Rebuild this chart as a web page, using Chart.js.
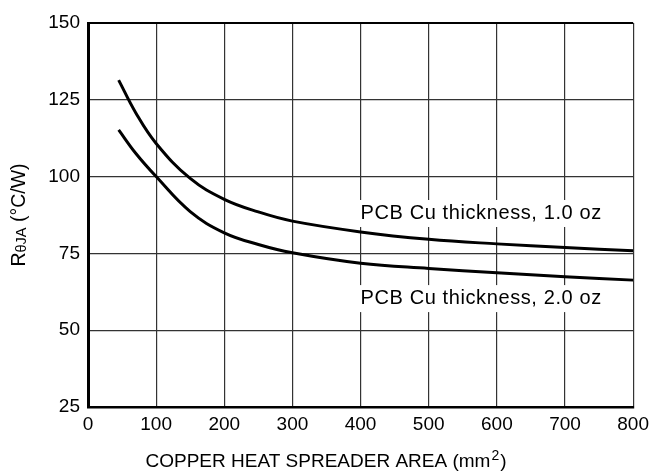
<!DOCTYPE html>
<html>
<head>
<meta charset="utf-8">
<title>RθJA vs copper area</title>
<script src="https://cdn.jsdelivr.net/npm/chart.js"></script>
<style>
  html, body { margin: 0; padding: 0; background: #fff; }
  #wrap { width: 655px; height: 471px; }
</style>
</head>
<body>
<div id="wrap"><canvas id="chart" width="655" height="471"></canvas></div>
<script>
const areas = [45, 70, 100, 150, 200, 250, 300, 400, 500, 600, 700, 800];
// RthetaJA (C/W), 1.0 oz and 2.0 oz copper
const oz1 = [131.4, 120.8, 110.8, 99.4, 92.6, 88.5, 85.5, 82, 79.6, 78.1, 76.9, 75.9];
const oz2 = [115.2, 107.6, 100, 88.6, 81.7, 77.9, 75.2, 71.8, 70.1, 68.7, 67.4, 66.3];

const xTicks = [0, 100, 200, 300, 400, 500, 600, 700, 800];
const yTicks = [25, 50, 75, 100, 125, 150];

const labels = [
  { text: 'PCB Cu thickness, 1.0 oz', x: 400, y: 86.2 },
  { text: 'PCB Cu thickness, 2.0 oz', x: 400, y: 58.5 }
];

const FONT = '"Liberation Sans", Arial, Helvetica, sans-serif';

function pts(ys) {
  return areas.map((a, i) => ({ x: a, y: ys[i] }));
}

// text boxes over the grid (white background hides the grid lines)
const curveLabels = {
  id: 'curveLabels',
  beforeDatasetsDraw(chart) {
    const ctx = chart.ctx;
    const sx = chart.scales.x, sy = chart.scales.y;
    ctx.save();
    ctx.font = '20px ' + FONT;
    ctx.letterSpacing = '0.6px';
    ctx.textBaseline = 'alphabetic';
    labels.forEach(l => {
      const px = sx.getPixelForValue(l.x);
      const py = sy.getPixelForValue(l.y);
      const w = ctx.measureText(l.text).width;
      ctx.fillStyle = '#fff';
      ctx.fillRect(px - 4, py - 19, w + 6, 27);
      ctx.fillStyle = '#000';
      ctx.fillText(l.text, px, py);
    });
    ctx.restore();
  }
};

// axis titles with sub / superscript
const axisTitles = {
  id: 'axisTitles',
  afterDraw(chart) {
    const ctx = chart.ctx;
    const area = chart.chartArea;
    ctx.save();
    ctx.fillStyle = '#000';
    ctx.textBaseline = 'alphabetic';

    // y title
    const big = '19.5px ' + FONT, small = '14.5px ' + FONT;
    ctx.translate(25, (area.top + area.bottom) / 2);
    ctx.rotate(-Math.PI / 2);
    ctx.font = big; const w1 = ctx.measureText('R').width;
    ctx.font = small; const w2 = ctx.measureText('θJA').width;
    ctx.font = big; const w3 = ctx.measureText(' (°C/W)').width;
    let x = -(w1 + w2 + w3) / 2;
    ctx.font = big; ctx.fillText('R', x, 0); x += w1;
    ctx.font = small; ctx.fillText('θJA', x, 1); x += w2;
    ctx.font = big; ctx.fillText(' (°C/W)', x, 0);
    ctx.setTransform(1, 0, 0, 1, 0, 0);

    // x title
    const a = 'COPPER HEAT SPREADER AREA (mm', b = '2', c = ')';
    ctx.font = '19px ' + FONT; const v1 = ctx.measureText(a).width;
    ctx.font = '14px ' + FONT; const v2 = ctx.measureText(b).width;
    ctx.font = '19px ' + FONT; const v3 = ctx.measureText(c).width;
    let xx = 325 - (v1 + v2 + v3) / 2;
    const base = 467;
    ctx.font = '19px ' + FONT; ctx.fillText(a, xx, base); xx += v1;
    ctx.font = '14px ' + FONT; ctx.fillText(b, xx + 1, base - 7); xx += v2 + 2;
    ctx.font = '19px ' + FONT; ctx.fillText(c, xx, base);
    ctx.restore();
  }
};

new Chart(document.getElementById('chart'), {
  type: 'line',
  data: {
    datasets: [
      { label: '1.0 oz', data: pts(oz1), borderColor: '#000', borderWidth: 3,
        pointRadius: 0, tension: 0.4, fill: false },
      { label: '2.0 oz', data: pts(oz2), borderColor: '#000', borderWidth: 3,
        pointRadius: 0, tension: 0.4, fill: false }
    ]
  },
  options: {
    responsive: false,
    animation: false,
    devicePixelRatio: 1,
    layout: { padding: { top: 23, right: 20, left: 0, bottom: 0 } },
    plugins: { legend: { display: false }, tooltip: { enabled: false } },
    scales: {
      x: {
        type: 'linear', min: 0, max: 800,
        afterBuildTicks(s) { s.ticks = xTicks.map(v => ({ value: v })); },
        afterFit(s) { s.height = 64; },
        ticks: { color: '#000', font: { size: 19, family: FONT }, padding: 6 },
        grid: { color: '#333', lineWidth: 1.2, drawTicks: false },
        border: { color: '#000', width: 2.5 }
      },
      y: {
        type: 'linear', min: 25, max: 150,
        afterBuildTicks(s) { s.ticks = yTicks.map(v => ({ value: v })); },
        afterFit(s) { s.width = 88; },
        ticks: { color: '#000', font: { size: 19, family: FONT }, padding: 8 },
        grid: {
          color: c => c.tick && c.tick.value === 150 ? '#000' : '#333',
          lineWidth: c => c.tick && c.tick.value === 150 ? 2 : 1.2,
          drawTicks: false
        },
        border: { color: '#000', width: 3 }
      }
    }
  },
  plugins: [curveLabels, axisTitles]
});
</script>
</body>
</html>
